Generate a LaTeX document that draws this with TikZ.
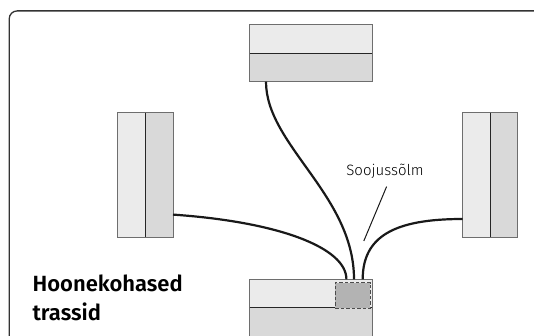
\documentclass[tikz,border=0pt]{standalone}
\usepackage{fontspec}
\setmainfont{Fira Sans}
\newfontfamily\titlefont{Fira Sans}[UprightFont=* SemiBold]
\newfontfamily\labelfont{Fira Sans}[UprightFont=* Light]
\definecolor{lightfill}{HTML}{EBEBEB}
\definecolor{darkfill}{HTML}{D9D9D9}
\definecolor{nodefill}{HTML}{B3B3B3}
\definecolor{edgegray}{HTML}{6E6E6E}
\definecolor{framegray}{HTML}{333333}
\tikzset{
  half/.style={draw=edgegray, line width=1pt, inner sep=0pt, outer sep=0pt, anchor=north west},
  lt/.style={half, fill=lightfill},
  dk/.style={half, fill=darkfill},
  divider/.style={draw=black!85, line width=1pt},
  pipe/.style={draw=black!90, line width=2.2pt},
  leader/.style={draw=black!90, line width=1pt},
}
\begin{document}
\begin{tikzpicture}[x=1pt,y=-1pt]
\useasboundingbox (0,0) rectangle (534,336);
\clip (0,0) rectangle (534,336);
\fill[white] (0,0) rectangle (534,336);
\draw[framegray, line width=1.3pt, rounded corners=8pt] (9.2,10.9) rectangle (560,360);
% top box
\node[lt, minimum width=122.3pt, minimum height=28.6pt] (t1) at (249.7,24.9) {};
\node[dk, minimum width=122.3pt, minimum height=28.2pt] (t2) at (249.7,53.5) {};
\draw[divider] (t1.south west) -- (t1.south east);
% left box
\node[lt, minimum width=28.3pt, minimum height=124.7pt] (l1) at (117.5,112.7) {};
\node[dk, minimum width=27.2pt, minimum height=124.7pt] (l2) at (145.8,112.7) {};
\draw[divider] (l1.north east) -- (l1.south east);
% right box
\node[lt, minimum width=28pt, minimum height=124.7pt] (r1) at (462.5,112.7) {};
\node[dk, minimum width=27.2pt, minimum height=124.7pt] (r2) at (490.5,112.7) {};
\draw[divider] (r1.north east) -- (r1.south east);
% bottom box
\node[lt, minimum width=122.3pt, minimum height=28.3pt] (b1) at (249.7,279.3) {};
\node[dk, minimum width=122.3pt, minimum height=30pt] (b2) at (249.7,307.6) {};
\draw[divider] (b1.south west) -- (b1.south east);
% heat node (dashed)
\node[draw=black!70, fill=nodefill, dash pattern=on 3.5pt off 2pt, line width=1pt, inner sep=0pt, anchor=north west, minimum width=35pt, minimum height=25.6pt] (hx) at (334.5,282) {};
% pipe endpoints
\coordinate (tOut) at (266,81.7);
\coordinate (lOut) at (173,214.6);
\coordinate (rOut) at (462.5,219);
\coordinate (e1) at (354,279.3);
\coordinate (e2) at (346.4,279.3);
\coordinate (e3) at (362.7,279.3);
\draw[pipe] (tOut) .. controls (266,145) and (354,195) .. (e1);
\draw[pipe] (lOut) .. controls (280,222) and (346.4,248) .. (e2);
\draw[pipe] (rOut) .. controls (395,219) and (362.7,236) .. (e3);
% label
\node[font=\labelfont\fontsize{15pt}{18pt}\selectfont, inner sep=0pt, anchor=base] (lab) at (385,175.7) {Soojussõlm};
\coordinate (labStart) at (386.6,186.6);
\coordinate (labEnd) at (363.8,241);
\draw[leader] (labStart) -- (labEnd);
% title
\node[font=\titlefont\fontsize{22pt}{26pt}\selectfont, anchor=base west, inner sep=0pt] (ttl1) at (32.4,291) {Hoonekohased};
\node[font=\titlefont\fontsize{22pt}{26pt}\selectfont, anchor=base west, inner sep=0pt] (ttl2) at (32.4,320) {trassid};
\end{tikzpicture}
\end{document}
